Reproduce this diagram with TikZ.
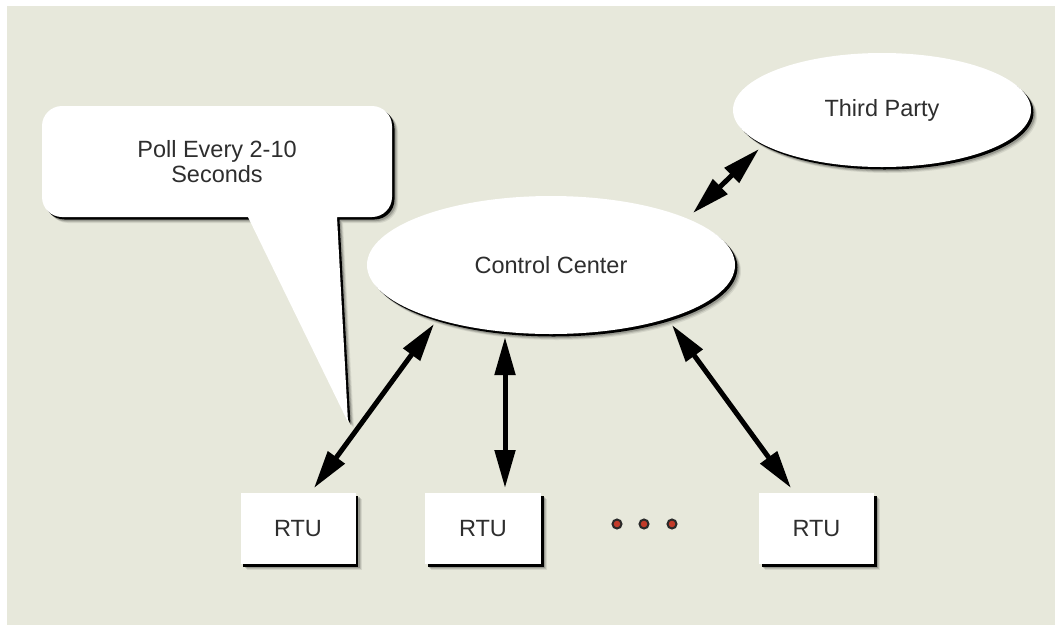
\documentclass[tikz,border=0pt]{standalone}
\usepackage{fontspec}
\setmainfont{Liberation Sans}
\usetikzlibrary{arrows.meta,shapes.geometric,shadows,calc}
\definecolor{bgcol}{HTML}{E7E8DB}
\definecolor{txtcol}{HTML}{2E2E2E}
\definecolor{dotred}{HTML}{C23B2A}
\definecolor{dotrim}{HTML}{2A2A2A}
\tikzset{
  softshadow/.style={
    drop shadow={shadow xshift=6pt, shadow yshift=-6pt, fill=black, opacity=0.08},
    drop shadow={shadow xshift=5pt, shadow yshift=-5pt, fill=black, opacity=0.12},
    drop shadow={shadow xshift=4pt, shadow yshift=-4pt, fill=black, opacity=0.18},
    drop shadow={shadow xshift=2.5pt, shadow yshift=-2.5pt, fill=black, opacity=1}
  },
  ovalnode/.style={ellipse, fill=white, inner sep=0pt, softshadow, text=txtcol},
  rtubox/.style={rectangle, fill=white, inner sep=0pt, minimum width=115pt, minimum height=71pt, softshadow, text=txtcol},
  dotnode/.style={circle, fill=dotred, draw=dotrim, line width=2pt, minimum size=9pt, inner sep=0pt},
  biarrow/.style={line width=5pt, {Triangle[length=38pt,width=20pt]}-{Triangle[length=38pt,width=20pt]}, black},
  lbl/.style={text=txtcol, align=center}
}
\begin{document}
\begin{tikzpicture}[x=1pt, y=-1pt, font=\fontsize{23.5}{25}\selectfont]
\useasboundingbox[fill=white] (0,0) rectangle (1055,625);
\fill[bgcol] (7,6) rectangle (1055,625);

% callout
\path[fill=white, softshadow]
  (62,106) -- (372,106) .. controls (383,106) and (392,115) .. (392,126)
  -- (392,197) .. controls (392,208) and (383,217) .. (372,217)
  -- (337,217) -- (348,422) -- (248,217)
  -- (62,217) .. controls (51,217) and (42,208) .. (42,197)
  -- (42,126) .. controls (42,115) and (51,106) .. (62,106) -- cycle;
\node[lbl] (callout) at (217,162) {Poll Every 2-10\\Seconds};

% main nodes
\node[ovalnode, minimum width=368pt, minimum height=138pt] (cc) at (551,265) {Control Center};
\node[ovalnode, minimum width=298pt, minimum height=114pt] (tp) at (882,110) {Third Party};

\node[rtubox] (rtu1) at (298,528.5) {RTU};
\node[rtubox, minimum width=116pt] (rtu2) at (483,528.5) {RTU};
\node[rtubox] (rtu3) at (816.5,528.5) {RTU};

\node[dotnode] (d1) at (617,524) {};
\node[dotnode] (d2) at (644,524) {};
\node[dotnode] (d3) at (672,524) {};

% connectors
\draw[biarrow] ($(cc.center)+(-117,59)$) -- ($(rtu1.center)+(16,-40.5)$);
\draw[biarrow] ($(cc.center)+(-46,72)$) -- ($(rtu2.center)+(22,-40.5)$);
\draw[biarrow] ($(cc.center)+(121,60)$) -- ($(rtu3.center)+(-25.5,-40.5)$);
\draw[biarrow] ($(tp.center)+(-123,39)$) -- ($(cc.center)+(142,-52)$);
\end{tikzpicture}
\end{document}
